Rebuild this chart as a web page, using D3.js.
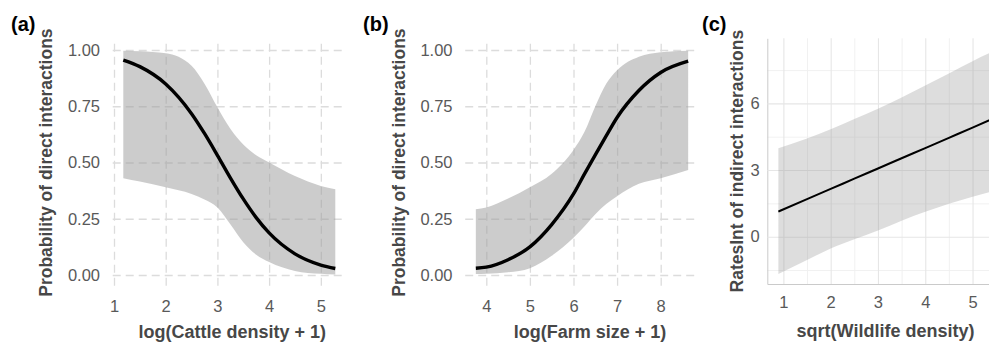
<!DOCTYPE html>
<html>
<head>
<meta charset="utf-8">
<script src="https://cdn.jsdelivr.net/npm/d3@7"></script>
<style>
  body { margin: 0; background: #fff; }
  svg { display: block; font-family: "Liberation Sans", Arial, sans-serif; }
</style>
</head>
<body>
<svg id="chart" width="989" height="344"></svg>
<script>
// (a) cattle density
const cattleX = [1.18, 1.5, 2.0, 2.5, 2.75, 3.0, 3.25, 3.5, 3.75, 4.0, 4.5, 5.0, 5.28];
const cattleFit = [0.955, 0.926, 0.849, 0.717, 0.629, 0.532, 0.432, 0.338, 0.255, 0.187, 0.094, 0.044, 0.029];
const cattleUpper = [0.997, 0.994, 0.985, 0.93, 0.85, 0.745, 0.65, 0.58, 0.532, 0.5, 0.44, 0.396, 0.381];
const cattleLower = [0.43, 0.415, 0.39, 0.36, 0.335, 0.3, 0.225, 0.145, 0.09, 0.058, 0.018, 0.005, 0.002];
const cattleTicks = [1, 2, 3, 4, 5];

// (b) farm size
const farmX = [3.76, 4.0, 4.5, 5.0, 5.5, 6.0, 6.25, 6.5, 6.75, 7.0, 7.5, 8.0, 8.63];
const farmFit = [0.03, 0.035, 0.068, 0.125, 0.224, 0.36, 0.448, 0.534, 0.618, 0.7, 0.82, 0.9, 0.95];
const farmUpper = [0.292, 0.3, 0.34, 0.39, 0.45, 0.556, 0.635, 0.75, 0.85, 0.91, 0.97, 0.99, 0.997];
const farmLower = [0.004, 0.005, 0.012, 0.03, 0.085, 0.165, 0.215, 0.27, 0.315, 0.35, 0.405, 0.43, 0.467];
const farmTicks = [4, 5, 6, 7, 8];

const probTicks = [0, 0.25, 0.5, 0.75, 1];

// (c) wildlife density
const wildX = [0.894, 1.5, 2, 2.5, 3, 3.5, 4, 4.5, 5, 5.55];
const wildFit = [1.13, 1.69, 2.15, 2.61, 3.07, 3.53, 3.99, 4.45, 4.91, 5.42];
const wildUpper = [3.98, 4.42, 4.84, 5.3, 5.76, 6.26, 6.8, 7.35, 7.9, 8.45];
const wildLower = [-1.68, -1.05, -0.53, -0.12, 0.28, 0.72, 1.12, 1.48, 1.8, 2.12];
const wildTicks = [1, 2, 3, 4, 5];
const wildMinor = [1.5, 2.5, 3.5, 4.5, 5.5];
const rateTicks = [0, 3, 6];
const rateMinor = [-1.5, 1.5, 4.5, 7.5];

const svg = d3.select('#chart');
const tickColor = '#595959';
const titleColor = '#474747';

function drawPanel(p) {
  const x = d3.scaleLinear().domain(p.xDomain).range(p.xRange);
  const y = d3.scaleLinear().domain(p.yDomain).range(p.yRange);
  const w = p.xRange[1] - p.xRange[0];
  const h = p.yRange[0] - p.yRange[1];
  const g = svg.append('g');

  // minor grid (only panel c)
  if (p.xMinor) {
    g.append('g')
      .attr('transform', `translate(0,${p.yRange[0]})`)
      .call(d3.axisBottom(x).tickValues(p.xMinor).tickSize(-h).tickSizeOuter(0).tickFormat(''))
      .call(a => a.select('.domain').remove())
      .call(a => a.selectAll('line').attr('stroke', '#efefef').attr('stroke-width', 0.9));
    g.append('g')
      .attr('transform', `translate(${p.xRange[0]},0)`)
      .call(d3.axisLeft(y).tickValues(p.yMinor).tickSize(-w).tickSizeOuter(0).tickFormat(''))
      .call(a => a.select('.domain').remove())
      .call(a => a.selectAll('line').attr('stroke', '#efefef').attr('stroke-width', 0.9));
  }

  // major grid + tick labels
  const xAxis = g.append('g')
    .attr('transform', `translate(0,${p.yRange[0]})`)
    .call(d3.axisBottom(x).tickValues(p.xTicks).tickSize(-h).tickSizeOuter(0).tickPadding(p.xPad).tickFormat(d3.format('d')));
  const yAxis = g.append('g')
    .attr('transform', `translate(${p.xRange[0]},0)`)
    .call(d3.axisLeft(y).tickValues(p.yTicks).tickSize(-w).tickSizeOuter(0).tickPadding(p.yPad).tickFormat(p.yFormat));

  [xAxis, yAxis].forEach(a => {
    a.selectAll('line')
      .attr('stroke', p.dashed ? '#dcdcdc' : '#e6e6e6')
      .attr('stroke-width', p.dashed ? 1.3 : 1.1)
      .attr('stroke-dasharray', p.dashed ? '8,5' : null);
    a.selectAll('text')
      .attr('fill', tickColor)
      .attr('font-size', 16.5);
    if (p.axisLine) {
      a.select('.domain').attr('stroke', '#cacaca').attr('stroke-width', 1);
    } else {
      a.select('.domain').remove();
    }
  });

  // confidence band
  const band = d3.area()
    .x((d, i) => x(p.xs[i]))
    .y0((d, i) => y(p.lower[i]))
    .y1((d, i) => y(p.upper[i]))
    .curve(d3.curveMonotoneX);
  g.append('path')
    .datum(p.xs)
    .attr('d', band)
    .attr('fill', '#999999')
    .attr('fill-opacity', p.bandOpacity);

  // fitted line
  const line = d3.line()
    .x((d, i) => x(p.xs[i]))
    .y((d, i) => y(p.fit[i]))
    .curve(d3.curveMonotoneX);
  g.append('path')
    .datum(p.xs)
    .attr('d', line)
    .attr('fill', 'none')
    .attr('stroke', '#000')
    .attr('stroke-width', p.lineWidth);

  // axis titles
  g.append('text')
    .attr('x', (p.xRange[0] + p.xRange[1]) / 2 + p.xTitleShift)
    .attr('y', p.xTitleY)
    .attr('text-anchor', 'middle')
    .attr('font-size', 18)
    .attr('font-weight', 'bold')
    .attr('fill', titleColor)
    .text(p.xTitle);

  g.append('text')
    .attr('transform', `translate(${p.yTitleX},${(p.yRange[0] + p.yRange[1]) / 2}) rotate(-90)`)
    .attr('text-anchor', 'middle')
    .attr('font-size', 17.5)
    .attr('font-weight', 'bold')
    .attr('fill', titleColor)
    .text(p.yTitle);

  // panel tag
  svg.append('text')
    .attr('x', p.tagX)
    .attr('y', 31)
    .attr('font-size', 20)
    .attr('font-weight', 'bold')
    .attr('fill', '#000')
    .text(p.tag);
}

drawPanel({
  tag: '(a)', tagX: 11,
  xs: cattleX, fit: cattleFit, upper: cattleUpper, lower: cattleLower,
  xDomain: [0.975, 5.485], xRange: [112.7, 345.9],
  yDomain: [-0.048, 1.047], yRange: [285.8, 39.4],
  xTicks: cattleTicks, yTicks: probTicks, yFormat: d3.format('.2f'),
  xPad: 14.3, yPad: 12.7, dashed: true, axisLine: false,
  bandOpacity: 0.5, lineWidth: 3.4,
  xTitle: 'log(Cattle density + 1)', xTitleY: 338, xTitleShift: 3,
  yTitle: 'Probability of direct interactions', yTitleX: 52
});

drawPanel({
  tag: '(b)', tagX: 363,
  xs: farmX, fit: farmFit, upper: farmUpper, lower: farmLower,
  xDomain: [3.516, 8.874], xRange: [465.2, 698.8],
  yDomain: [-0.048, 1.047], yRange: [285.8, 39.4],
  xTicks: farmTicks, yTicks: probTicks, yFormat: d3.format('.2f'),
  xPad: 14.3, yPad: 12.7, dashed: true, axisLine: false,
  bandOpacity: 0.5, lineWidth: 3.4,
  xTitle: 'log(Farm size + 1)', xTitleY: 338, xTitleShift: 8,
  yTitle: 'Probability of direct interactions', yTitleX: 405
});

drawPanel({
  tag: '(c)', tagX: 702,
  xs: wildX, fit: wildFit, upper: wildUpper, lower: wildLower,
  xDomain: [0.66, 5.83], xRange: [767.3, 1011.8],
  yDomain: [-2.13, 8.93], yRange: [284, 38.3],
  xTicks: wildTicks, yTicks: rateTicks, yFormat: d3.format('d'),
  xMinor: wildMinor, yMinor: rateMinor,
  xPad: 12, yPad: 7.5, dashed: false, axisLine: true,
  bandOpacity: 0.33, lineWidth: 2,
  xTitle: 'sqrt(Wildlife density)', xTitleY: 337, xTitleShift: -4,
  yTitle: 'RatesInt of indirect interactions', yTitleX: 743
});
</script>
</body>
</html>
